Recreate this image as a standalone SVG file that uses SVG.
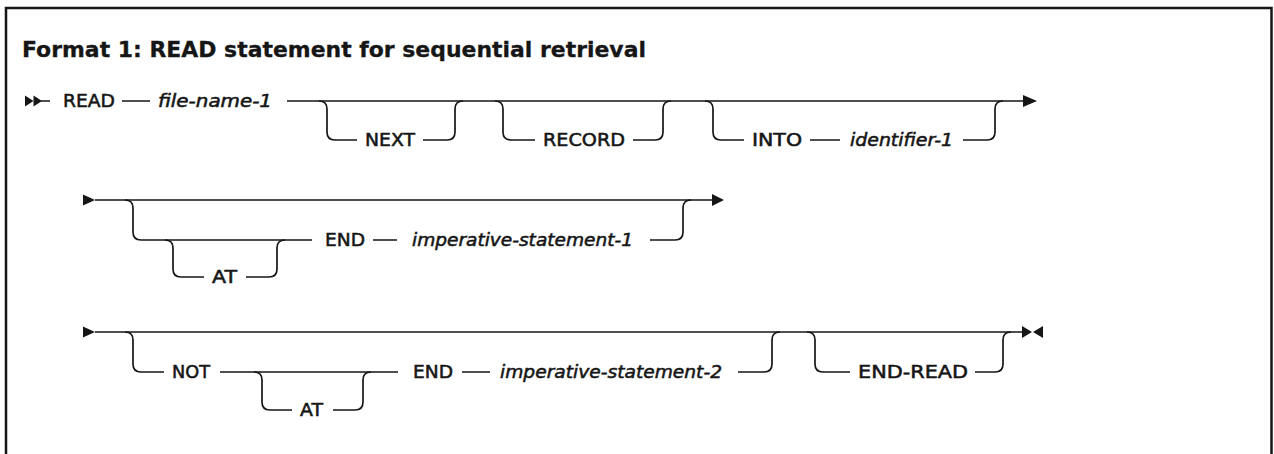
<svg xmlns="http://www.w3.org/2000/svg" width="1274" height="454" viewBox="0 0 1274 454">
<style>
.t{font-family:"DejaVu Sans","Liberation Sans",sans-serif;font-size:18px;fill:#161616;stroke:#161616;stroke-width:0.55}
.v{font-style:italic}
.ttl{font-family:"DejaVu Sans","Liberation Sans",sans-serif;font-size:21px;font-weight:bold;fill:#161616;stroke:#161616;stroke-width:0.3}
.c{fill:none;stroke:#161616;stroke-width:1.7}
.h{fill:#161616}
</style>
<rect width="1274" height="454" fill="#fff"/>
<path d="M6 460 V8 H1271.5 V460" fill="none" stroke="#161616" stroke-width="2.5"/>
<text class="ttl" x="22" y="57" textLength="624" lengthAdjust="spacingAndGlyphs">Format 1: READ statement for sequential retrieval</text>
<g id="connectors">
<polygon class="h" points="25,95.5 33.5,101 25,106.5"/>
<polygon class="h" points="33.5,95.5 42,101 33.5,106.5"/>
<path class="c" d="M41 101 H50 M122 101 H150 M287 101 H1023"/>
<path class="c" d="M319 101 Q327 101 327 109 V132 Q327 140 335 140 H357 M423 140 H447 Q455 140 455 132 V109 Q455 101 463 101"/>
<path class="c" d="M495 101 Q503 101 503 109 V132 Q503 140 511 140 H535 M633 140 H655 Q663 140 663 132 V109 Q663 101 671 101"/>
<path class="c" d="M705 101 Q713 101 713 109 V132 Q713 140 721 140 H744 M810 140 H840 M963 140 H987 Q995 140 995 132 V109 Q995 101 1003 101"/>
<polygon class="h" points="1023,95 1037,101 1023,107"/>
<polygon class="h" points="83,194.5 95,200 83,205.5"/>
<path class="c" d="M95 200 H712"/>
<path class="c" d="M125 200 Q133 200 133 208 V232 Q133 240 141 240 H312 M373 240 H397 M650 240 H675 Q683 240 683 232 V208 Q683 200 691 200"/>
<path class="c" d="M165 240 Q173 240 173 248 V269 Q173 277 181 277 H204 M246 277 H269 Q277 277 277 269 V248 Q277 240 285 240"/>
<polygon class="h" points="712,194 724,200 712,206"/>
<polygon class="h" points="83,326.5 95,332 83,337.5"/>
<path class="c" d="M95 332 H1022"/>
<path class="c" d="M125 332 Q133 332 133 340 V364 Q133 372 141 372 H164 M220 372 H398 M462 372 H490 M738 372 H764 Q772 372 772 364 V340 Q772 332 780 332"/>
<path class="c" d="M254 372 Q262 372 262 380 V402 Q262 410 270 410 H292 M333 410 H355 Q363 410 363 402 V380 Q363 372 371 372"/>
<path class="c" d="M807 332 Q815 332 815 340 V364 Q815 372 823 372 H850 M975 372 H995 Q1003 372 1003 364 V340 Q1003 332 1011 332"/>
<polygon class="h" points="1022,326 1032,332 1022,338"/>
<polygon class="h" points="1043,326 1033,332 1043,338"/>
</g>
<g id="n-read"><text class="t" x="63" y="107" textLength="52" lengthAdjust="spacingAndGlyphs">READ</text></g>
<g id="n-file-name-1"><text class="t v" x="158" y="107" textLength="114" lengthAdjust="spacingAndGlyphs">file-name-1</text></g>
<g id="n-next"><text class="t" x="365" y="146" textLength="50" lengthAdjust="spacingAndGlyphs">NEXT</text></g>
<g id="n-record"><text class="t" x="543" y="146" textLength="82" lengthAdjust="spacingAndGlyphs">RECORD</text></g>
<g id="n-into"><text class="t" x="752" y="146" textLength="50" lengthAdjust="spacingAndGlyphs">INTO</text></g>
<g id="n-identifier-1"><text class="t v" x="850" y="146" textLength="103" lengthAdjust="spacingAndGlyphs">identifier-1</text></g>
<g id="n-at-1"><text class="t" x="212" y="283" textLength="25" lengthAdjust="spacingAndGlyphs">AT</text></g>
<g id="n-end-1"><text class="t" x="325" y="246" textLength="40" lengthAdjust="spacingAndGlyphs">END</text></g>
<g id="n-imp-1"><text class="t v" x="412" y="246" textLength="221" lengthAdjust="spacingAndGlyphs">imperative-statement-1</text></g>
<g id="n-not"><text class="t" x="172" y="378" textLength="38" lengthAdjust="spacingAndGlyphs">NOT</text></g>
<g id="n-at-2"><text class="t" x="300" y="416" textLength="23" lengthAdjust="spacingAndGlyphs">AT</text></g>
<g id="n-end-2"><text class="t" x="413" y="378" textLength="40" lengthAdjust="spacingAndGlyphs">END</text></g>
<g id="n-imp-2"><text class="t v" x="500" y="378" textLength="222" lengthAdjust="spacingAndGlyphs">imperative-statement-2</text></g>
<g id="n-end-read"><text class="t" x="858" y="378" textLength="110" lengthAdjust="spacingAndGlyphs">END-READ</text></g>
</svg>
